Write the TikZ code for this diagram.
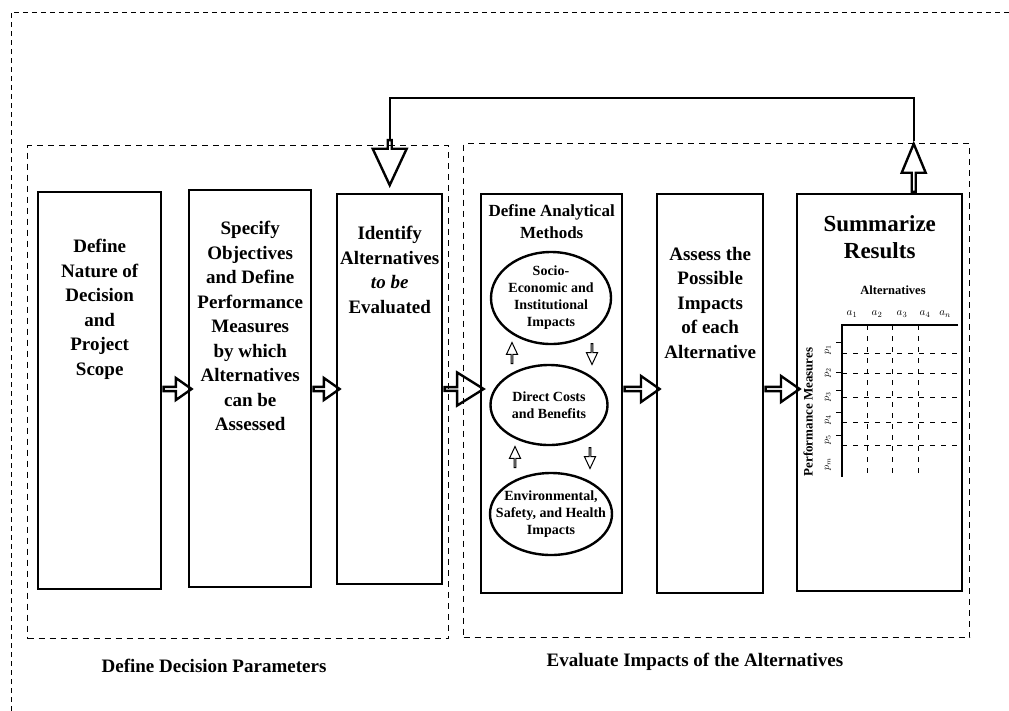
\documentclass[tikz,border=0pt]{standalone}
\usepackage{fontspec}
\setmainfont{Liberation Serif}
\usetikzlibrary{positioning,shapes.geometric,shapes.arrows}

\begin{document}
\begin{tikzpicture}[x=1pt,y=-1pt,line width=2.4pt,
	stage/.style={draw, rectangle, inner sep=0pt, anchor=north west},
	stagetext/.style={align=center, inner sep=0pt, font=\bfseries\fontsize{19}{24.5}\selectfont},
	method/.style={draw, ellipse, inner sep=0pt},
	methodtext/.style={align=center, inner sep=0pt, font=\bfseries\fontsize{14}{17}\selectfont},
	fatarrow/.style={draw, single arrow, inner sep=0pt, anchor=tail, minimum width=22pt, single arrow head extend=5pt, single arrow tip angle=70},
	thinarrow/.style={fatarrow, line width=1pt, minimum width=11pt, single arrow head extend=2.5pt, minimum height=21pt, single arrow tip angle=50},
	group/.style={draw, rectangle, inner sep=0pt, anchor=north west, line width=1pt, dash pattern=on 6pt off 5pt},
	grouplabel/.style={font=\bfseries\fontsize{19}{22}\selectfont},
	grid/.style={line width=0.9pt, dash pattern=on 5pt off 6pt}]

		\useasboundingbox (0,0) rectangle (1009,710);
		\draw[line width=0.9pt, dash pattern=on 5pt off 4pt] (11,720) -- (11,12) -- (1020,12);

		%the two groups of steps
		\node[group, minimum width=421pt, minimum height=493pt] (params) at (27,145) {};
		\node[group, minimum width=506pt, minimum height=494pt] (evaluate) at (463,143) {};
		\node[grouplabel] (paramslabel) at (214,666) {Define Decision Parameters};
		\node[grouplabel] (evaluatelabel) at (695,662) {Evaluate Impacts of the Alternatives};

		%the steps
		\node[stage, minimum width=123pt, minimum height=397pt] (nature) at (37,191) {};
		\node[stage, minimum width=122pt, minimum height=397pt] (objectives) at (188,189) {};
		\node[stage, minimum width=105pt, minimum height=390pt] (alternatives) at (336,193) {};
		\node[stage, minimum width=141pt, minimum height=399pt] (methods) at (480,193) {};
		\node[stage, minimum width=106pt, minimum height=399pt] (impacts) at (656,193) {};
		\node[stage, minimum width=165pt, minimum height=397pt] (results) at (796,193) {};

		\node[stagetext, below=47pt of nature.north] {Define\\Nature of\\Decision\\and\\Project\\Scope};
		\node[stagetext, below=31pt of objectives.north] {Specify\\Objectives\\and Define\\Performance\\Measures\\by which\\Alternatives\\can be\\Assessed};
		\node[stagetext, below=32pt of alternatives.north] {Identify\\Alternatives\\\textit{to be}\\Evaluated};
		\node[stagetext, font=\bfseries\fontsize{17}{22}\selectfont, below=10pt of methods.north] {Define Analytical\\Methods};
		\node[stagetext, below=53pt of impacts.north] {Assess the\\Possible\\Impacts\\of each\\Alternative};
		\node[stagetext, font=\bfseries\fontsize{23}{27}\selectfont, below=21pt of results.north] {Summarize\\Results};

		%the analytical methods
		\node[method, minimum width=120pt, minimum height=92pt] (socio) at (551,298) {};
		\node[method, minimum width=117pt, minimum height=80pt] (costs) at (549,405) {};
		\node[method, minimum width=122pt, minimum height=82pt] (health) at (551,514) {};
		\node[methodtext] at (socio) {Socio-\\Economic and\\Institutional\\Impacts};
		\node[methodtext] at (costs) {Direct Costs\\and Benefits};
		\node[methodtext] at (health) {Environmental,\\Safety, and Health\\Impacts};

		\node[thinarrow, shape border rotate=90] (costsup) at (512,364) {};
		\node[thinarrow, shape border rotate=270] (sociodown) at (592,343) {};
		\node[thinarrow, shape border rotate=90] (healthup) at (515,468) {};
		\node[thinarrow, shape border rotate=270] (costsdown) at (590,447) {};

		%from step to step
		\coordinate (row) at (0,389);
		\node[fatarrow, minimum height=28pt] (a1) at (nature.east |- row) {};
		\node[fatarrow, minimum height=26pt] (a2) at (objectives.east |- row) {};
		\node[fatarrow, minimum height=39pt, minimum width=33pt, single arrow head extend=9pt, single arrow tip angle=64] (a3) at (alternatives.east |- row) {};
		\node[fatarrow, minimum height=35pt, minimum width=26pt, single arrow head extend=6pt] (a4) at (methods.east |- row) {};
		\node[fatarrow, minimum height=34pt, minimum width=26pt, single arrow head extend=6pt] (a5) at (impacts.east |- row) {};

		% back to the alternatives
		\node[fatarrow, shape border rotate=270, anchor=tip, minimum height=45pt, minimum width=34pt, single arrow head extend=9pt, single arrow tip angle=50] (back) at ([yshift=5pt]alternatives.north) {};
		\node[fatarrow, shape border rotate=90, minimum height=48pt, minimum width=24pt, single arrow head extend=6pt, single arrow tip angle=45] (forward) at ([xshift=34pt]results.north) {};
		\draw[line width=2pt] (forward.tip) -- ++(0,-43) -| (back.tail);

		% the summary table
		\node[font=\bfseries\fontsize{12.5}{13}\selectfont] (alts) at (893,290) {Alternatives};
		\node[rotate=90, font=\bfseries\fontsize{13}{13}\selectfont] (measures) at (808,412) {Performance Measures};
		\draw[line width=1.4pt] (958,325) -- (842,325) -- (842,477);
		\foreach \x in {867,892,918} \draw[grid] (\x,325) -- (\x,477);
		\foreach \y in {353,373,397,422,445} \draw[grid] (842,\y) -- (958,\y);
		\foreach \y in {342,372,390,412,435} \draw[line width=1pt] (836,\y) -- (842,\y);
		\foreach \x/\t in {852/1,877/2,902/3,925/4,945/n} \node[font=\fontsize{11}{11}\selectfont] at (\x,314) {$a_{\t}$};
		\foreach \y/\t in {350/1,373/2,397/3,420/4,440/5,464/m} \node[rotate=90, font=\fontsize{10}{10}\selectfont] at (828,\y) {$p_{\t}$};

	\end{tikzpicture}
\end{document}
